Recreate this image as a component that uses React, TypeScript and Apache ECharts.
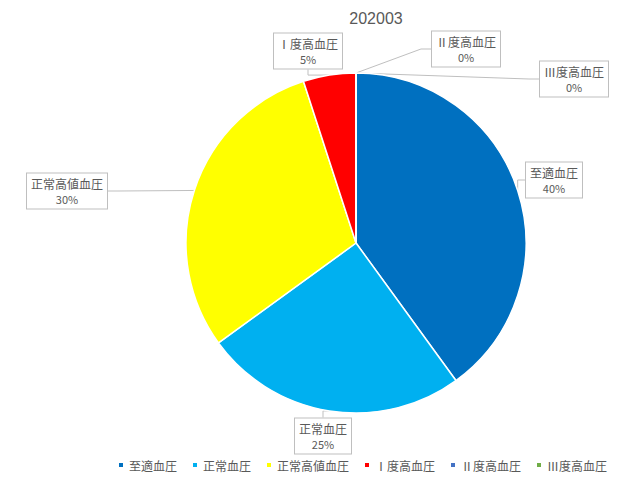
import { useEffect, useRef } from "react";
import * as echarts from "echarts";

const title = "202003";
const categories = ["至適血圧", "正常血圧", "正常高値血圧", "Ⅰ度高血圧", "Ⅱ度高血圧", "Ⅲ度高血圧"];
const values = [40, 25, 30, 5, 0, 0];
const colors = ["#0070C0", "#00B0F0", "#FFFF00", "#FF0000", "#4472C4", "#70AD47"];

// where each callout box sits (centre, px)
const calloutSpots: [number, number][] = [
    [554, 180],
    [323, 436],
    [67, 191],
    [308, 51],
    [466, 49],
    [574, 79],
];

const FONT = "'Noto Sans CJK JP', 'Noto Sans', sans-serif";

export default function App() {
    const ref = useRef<HTMLDivElement | null>(null);

    useEffect(() => {
        document.body.style.margin = "0";
        if (!ref.current) return;
        const chart = echarts.init(ref.current, undefined, { renderer: "svg" });

        const option: echarts.EChartsOption = {
            animation: false,
            backgroundColor: "#fff",
            title: {
                text: title,
                left: 371,
                top: 5,
                textAlign: "center",
                textStyle: { color: "#595959", fontSize: 16, fontWeight: "normal", fontFamily: "'Liberation Sans', sans-serif" },
            },
            legend: {
                left: 117,
                top: 459,
                padding: 0,
                itemWidth: 6,
                itemHeight: 6,
                itemGap: 14,
                icon: "rect",
                textStyle: { color: "#595959", fontSize: 12, fontFamily: FONT },
                data: categories,
            },
            series: [
                {
                    type: "pie",
                    center: [356, 243],
                    radius: 170,
                    startAngle: 90,
                    clockwise: true,
                    itemStyle: { borderColor: "#fff", borderWidth: 1.5 },
                    data: categories.map((name, i) => ({
                        name,
                        value: values[i],
                        itemStyle: { color: colors[i] },
                    })),
                    label: {
                        show: true,
                        position: "outside",
                        formatter: (p: any) => `{n|${p.name}}\n{p|${p.value}%}`,
                        backgroundColor: "#fff",
                        borderColor: "#bfbfbf",
                        borderWidth: 1,
                        padding: [2, 4],
                        align: "center",
                        rich: {
                            n: { fontSize: 12, lineHeight: 16, color: "#595959", fontFamily: FONT, align: "center" },
                            p: { fontSize: 11, lineHeight: 15, color: "#595959", fontFamily: FONT, align: "center" },
                        },
                    },
                    labelLine: {
                        show: true,
                        length: 10,
                        length2: 10,
                        lineStyle: { color: "#bfbfbf", width: 1 },
                    },
                    labelLayout: (p: any) => {
                        const spot = calloutSpots[p.dataIndex];
                        return {
                            x: spot[0],
                            y: spot[1],
                            align: "center",
                            verticalAlign: "middle",
                        };
                    },
                },
            ],
        };

        chart.setOption(option);
        return () => chart.dispose();
    }, []);

    return <div ref={ref} style={{ width: 639, height: 483 }} />;
}
